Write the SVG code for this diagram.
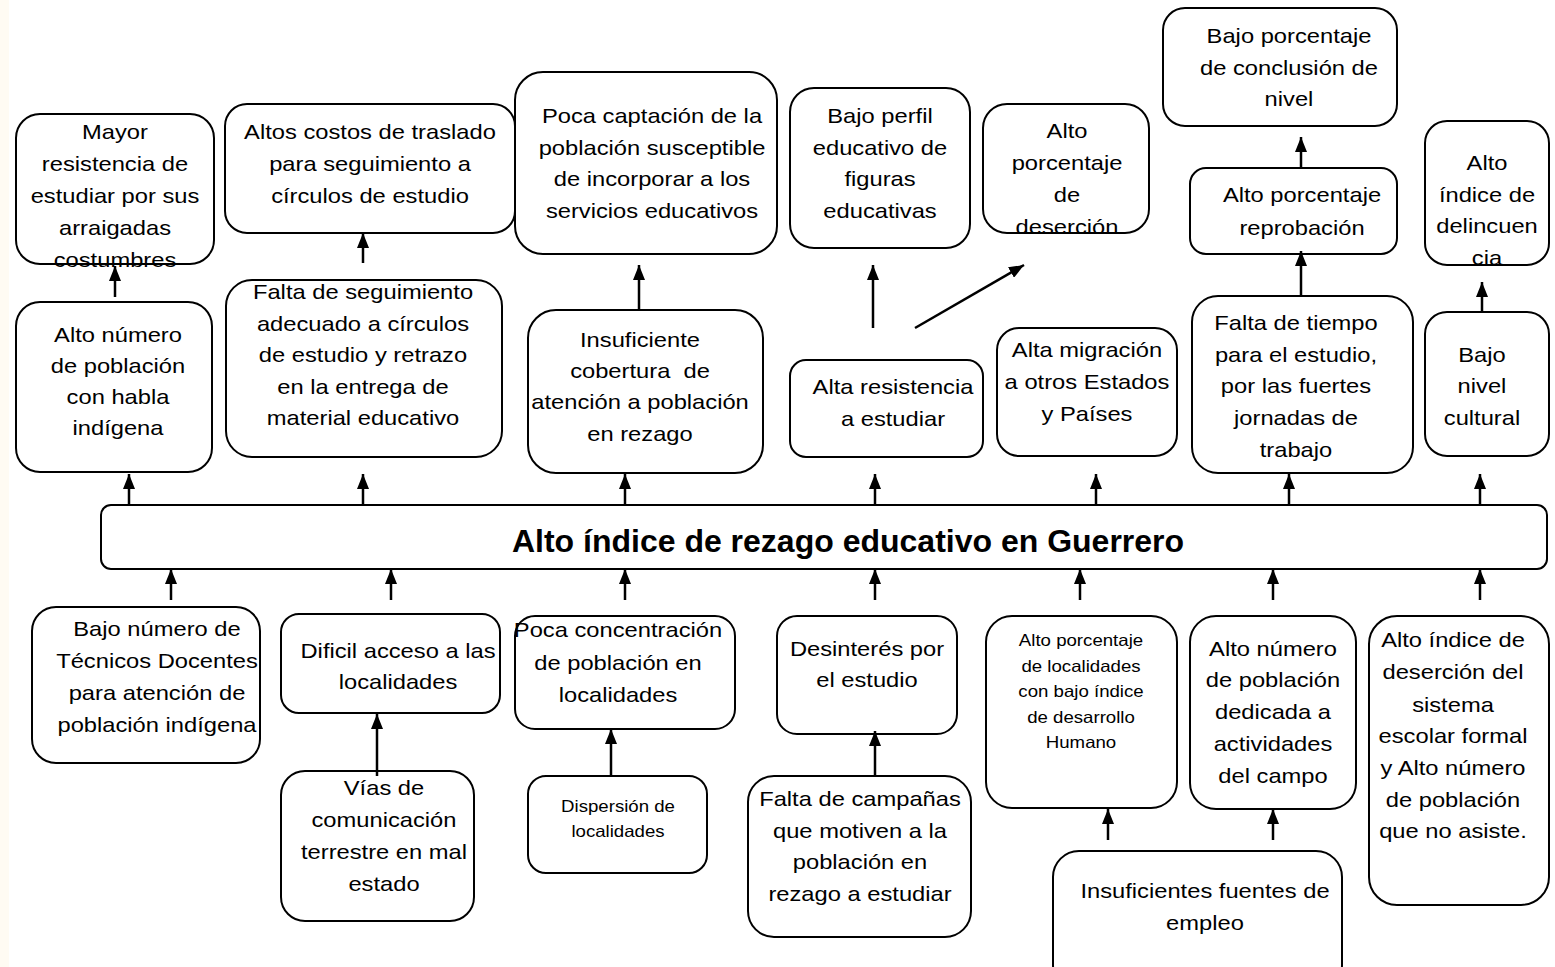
<svg xmlns="http://www.w3.org/2000/svg" width="1555" height="967" viewBox="0 0 1555 967">
<style>
.box{fill:#fff;stroke:#000;stroke-width:2}
.t{font-family:"Liberation Sans",Arial,sans-serif;font-size:21px;fill:#000;text-anchor:middle}
.s{font-size:16.5px}
.title{font-family:"Liberation Sans",Arial,sans-serif;font-size:32px;font-weight:bold;fill:#000;text-anchor:middle}
.c{stroke:#000;stroke-width:2.5;fill:none;marker-end:url(#ah)}
</style>
<defs>
<marker id="ah" viewBox="0 0 15 12" refX="15" refY="6" markerWidth="15" markerHeight="12" markerUnits="userSpaceOnUse" orient="auto">
<path d="M0,0 L15,6 L0,12 z" fill="#000"/>
</marker>
</defs>
<rect x="0" y="0" width="1555" height="967" fill="#fff"/>
<rect x="0" y="0" width="9" height="967" fill="#FFFBF3"/>

<g id="n_mayor"><rect class="box" x="16" y="114" width="198" height="150" rx="24"/>
<text class="t" transform="translate(115 0) scale(1.13 1)"><tspan x="0" y="139">Mayor</tspan><tspan x="0" y="171">resistencia de</tspan><tspan x="0" y="203">estudiar por sus</tspan><tspan x="0" y="235">arraigadas</tspan><tspan x="0" y="267">costumbres</tspan></text></g>

<g id="n_altos"><rect class="box" x="225" y="104" width="290" height="129" rx="22"/>
<text class="t" transform="translate(370 0) scale(1.13 1)"><tspan x="0" y="139">Altos costos de traslado</tspan><tspan x="0" y="171">para seguimiento a</tspan><tspan x="0" y="203">círculos de estudio</tspan></text></g>

<g id="n_captacion"><rect class="box" x="515" y="72" width="262" height="182" rx="28"/>
<text class="t" transform="translate(652 0) scale(1.13 1)"><tspan x="0" y="123">Poca captación de la</tspan><tspan x="0" y="155">población susceptible</tspan><tspan x="0" y="186">de incorporar a los</tspan><tspan x="0" y="218">servicios educativos</tspan></text></g>

<g id="n_perfil"><rect class="box" x="790" y="88" width="180" height="160" rx="24"/>
<text class="t" transform="translate(880 0) scale(1.13 1)"><tspan x="0" y="123">Bajo perfil</tspan><tspan x="0" y="155">educativo de</tspan><tspan x="0" y="186">figuras</tspan><tspan x="0" y="218">educativas</tspan></text></g>

<g id="n_desercion"><rect class="box" x="983" y="104" width="166" height="129" rx="24"/>
<text class="t" transform="translate(1067 0) scale(1.13 1)"><tspan x="0" y="138">Alto</tspan><tspan x="0" y="170">porcentaje</tspan><tspan x="0" y="202">de</tspan><tspan x="0" y="234">deserción</tspan></text></g>

<g id="n_conclusion"><rect class="box" x="1163" y="8" width="234" height="118" rx="22"/>
<text class="t" transform="translate(1289 0) scale(1.13 1)"><tspan x="0" y="43">Bajo porcentaje</tspan><tspan x="0" y="75">de conclusión de</tspan><tspan x="0" y="106">nivel</tspan></text></g>

<g id="n_reprobacion"><rect class="box" x="1190" y="168" width="207" height="86" rx="16"/>
<text class="t" transform="translate(1302 0) scale(1.13 1)"><tspan x="0" y="202">Alto porcentaje</tspan><tspan x="0" y="235">reprobación</tspan></text></g>

<g id="n_delincuencia"><rect class="box" x="1425" y="121" width="124" height="144" rx="22"/>
<text class="t" transform="translate(1487 0) scale(1.13 1)"><tspan x="0" y="170">Alto</tspan><tspan x="0" y="202">índice de</tspan><tspan x="0" y="233">delincuen</tspan><tspan x="0" y="265">cia</tspan></text></g>

<g id="n_habla"><rect class="box" x="16" y="302" width="196" height="170" rx="24"/>
<text class="t" transform="translate(118 0) scale(1.13 1)"><tspan x="0" y="342">Alto número</tspan><tspan x="0" y="373">de población</tspan><tspan x="0" y="404">con habla</tspan><tspan x="0" y="435">indígena</tspan></text></g>

<g id="n_seguimiento"><rect class="box" x="226" y="280" width="276" height="177" rx="26"/>
<text class="t" transform="translate(363 0) scale(1.13 1)"><tspan x="0" y="299">Falta de seguimiento</tspan><tspan x="0" y="331">adecuado a círculos</tspan><tspan x="0" y="362">de estudio y retrazo</tspan><tspan x="0" y="394">en la entrega de</tspan><tspan x="0" y="425">material educativo</tspan></text></g>

<g id="n_cobertura"><rect class="box" x="528" y="310" width="235" height="163" rx="28"/>
<text class="t" transform="translate(640 0) scale(1.13 1)"><tspan x="0" y="347">Insuficiente</tspan><tspan x="0" y="378" style="white-space:pre">cobertura  de</tspan><tspan x="0" y="409">atención a población</tspan><tspan x="0" y="441">en rezago</tspan></text></g>

<g id="n_resistencia"><rect class="box" x="790" y="360" width="193" height="97" rx="16"/>
<text class="t" transform="translate(893 0) scale(1.13 1)"><tspan x="0" y="394">Alta resistencia</tspan><tspan x="0" y="426">a estudiar</tspan></text></g>

<g id="n_migracion"><rect class="box" x="997" y="328" width="180" height="128" rx="22"/>
<text class="t" transform="translate(1087 0) scale(1.13 1)"><tspan x="0" y="357">Alta migración</tspan><tspan x="0" y="389">a otros Estados</tspan><tspan x="0" y="421">y Países</tspan></text></g>

<g id="n_tiempo"><rect class="box" x="1192" y="296" width="221" height="177" rx="26"/>
<text class="t" transform="translate(1296 0) scale(1.13 1)"><tspan x="0" y="330">Falta de tiempo</tspan><tspan x="0" y="362">para el estudio,</tspan><tspan x="0" y="393">por las fuertes</tspan><tspan x="0" y="425">jornadas de</tspan><tspan x="0" y="457">trabajo</tspan></text></g>

<g id="n_cultural"><rect class="box" x="1425" y="312" width="124" height="144" rx="22"/>
<text class="t" transform="translate(1482 0) scale(1.13 1)"><tspan x="0" y="362">Bajo</tspan><tspan x="0" y="393">nivel</tspan><tspan x="0" y="425">cultural</tspan></text></g>

<g id="n_central"><rect class="box" x="101" y="505" width="1446" height="64" rx="10"/>
<text class="title" x="848" y="552">Alto índice de rezago educativo en Guerrero</text></g>

<g id="n_tecnicos"><rect class="box" x="32" y="607" width="228" height="156" rx="24"/>
<text class="t" transform="translate(157 0) scale(1.13 1)"><tspan x="0" y="636">Bajo número de</tspan><tspan x="0" y="668">Técnicos Docentes</tspan><tspan x="0" y="700">para atención de</tspan><tspan x="0" y="732">población indígena</tspan></text></g>

<g id="n_acceso"><rect class="box" x="281" y="614" width="219" height="99" rx="18"/>
<text class="t" transform="translate(398 0) scale(1.13 1)"><tspan x="0" y="658">Dificil acceso a las</tspan><tspan x="0" y="689">localidades</tspan></text></g>

<g id="n_concentracion"><rect class="box" x="515" y="616" width="220" height="113" rx="20"/>
<text class="t" transform="translate(618 0) scale(1.13 1)"><tspan x="0" y="637">Poca concentración</tspan><tspan x="0" y="670">de población en</tspan><tspan x="0" y="702">localidades</tspan></text></g>

<g id="n_desinteres"><rect class="box" x="777" y="616" width="180" height="118" rx="20"/>
<text class="t" transform="translate(867 0) scale(1.13 1)"><tspan x="0" y="656">Desinterés por</tspan><tspan x="0" y="687">el estudio</tspan></text></g>

<g id="n_idh"><rect class="box" x="986" y="616" width="191" height="192" rx="26"/>
<text class="t s" transform="translate(1081 0) scale(1.13 1)"><tspan x="0" y="646">Alto porcentaje</tspan><tspan x="0" y="672">de localidades</tspan><tspan x="0" y="697">con bajo índice</tspan><tspan x="0" y="723">de desarrollo</tspan><tspan x="0" y="748">Humano</tspan></text></g>

<g id="n_campo"><rect class="box" x="1190" y="616" width="166" height="193" rx="26"/>
<text class="t" transform="translate(1273 0) scale(1.13 1)"><tspan x="0" y="656">Alto número</tspan><tspan x="0" y="687">de población</tspan><tspan x="0" y="719">dedicada a</tspan><tspan x="0" y="751">actividades</tspan><tspan x="0" y="783">del campo</tspan></text></g>

<g id="n_sistema"><rect class="box" x="1369" y="616" width="180" height="289" rx="28"/>
<text class="t" transform="translate(1453 0) scale(1.13 1)"><tspan x="0" y="647">Alto índice de</tspan><tspan x="0" y="679">deserción del</tspan><tspan x="0" y="712">sistema</tspan><tspan x="0" y="743">escolar formal</tspan><tspan x="0" y="775">y Alto número</tspan><tspan x="0" y="807">de población</tspan><tspan x="0" y="838">que no asiste.</tspan></text></g>

<g id="n_vias"><rect class="box" x="281" y="771" width="193" height="150" rx="24"/>
<text class="t" transform="translate(384 0) scale(1.13 1)"><tspan x="0" y="795">Vías de</tspan><tspan x="0" y="827">comunicación</tspan><tspan x="0" y="859">terrestre en mal</tspan><tspan x="0" y="891">estado</tspan></text></g>

<g id="n_dispersion"><rect class="box" x="528" y="776" width="179" height="97" rx="18"/>
<text class="t s" transform="translate(618 0) scale(1.13 1)"><tspan x="0" y="812">Dispersión de</tspan><tspan x="0" y="837">localidades</tspan></text></g>

<g id="n_campanas"><rect class="box" x="748" y="776" width="223" height="161" rx="26"/>
<text class="t" transform="translate(860 0) scale(1.13 1)"><tspan x="0" y="806">Falta de campañas</tspan><tspan x="0" y="838">que motiven a la</tspan><tspan x="0" y="869">población en</tspan><tspan x="0" y="901">rezago a estudiar</tspan></text></g>

<g id="n_empleo"><rect class="box" x="1053" y="851" width="289" height="140" rx="26"/>
<text class="t" transform="translate(1205 0) scale(1.13 1)"><tspan x="0" y="898">Insuficientes fuentes de</tspan><tspan x="0" y="930">empleo</tspan></text></g>

<g id="connectors">
<line class="c" x1="115" y1="297" x2="115" y2="266"/>
<line class="c" x1="363" y1="263" x2="363" y2="233"/>
<line class="c" x1="639" y1="310" x2="639" y2="265"/>
<line class="c" x1="873" y1="328" x2="873" y2="265"/>
<line class="c" x1="915" y1="328" x2="1024" y2="265"/>
<line class="c" x1="1301" y1="168" x2="1301" y2="137"/>
<line class="c" x1="1301" y1="296" x2="1301" y2="251"/>
<line class="c" x1="1482" y1="312" x2="1482" y2="282"/>
<line class="c" x1="129" y1="505" x2="129" y2="474"/>
<line class="c" x1="363" y1="505" x2="363" y2="474"/>
<line class="c" x1="625" y1="505" x2="625" y2="474"/>
<line class="c" x1="875" y1="505" x2="875" y2="474"/>
<line class="c" x1="1096" y1="505" x2="1096" y2="474"/>
<line class="c" x1="1289" y1="505" x2="1289" y2="474"/>
<line class="c" x1="1480" y1="505" x2="1480" y2="474"/>
<line class="c" x1="171" y1="600" x2="171" y2="569"/>
<line class="c" x1="391" y1="600" x2="391" y2="569"/>
<line class="c" x1="625" y1="600" x2="625" y2="569"/>
<line class="c" x1="875" y1="600" x2="875" y2="569"/>
<line class="c" x1="1080" y1="600" x2="1080" y2="569"/>
<line class="c" x1="1273" y1="600" x2="1273" y2="569"/>
<line class="c" x1="1480" y1="600" x2="1480" y2="569"/>
<line class="c" x1="377" y1="776" x2="377" y2="714"/>
<line class="c" x1="611" y1="776" x2="611" y2="729"/>
<line class="c" x1="875" y1="776" x2="875" y2="731"/>
<line class="c" x1="1108" y1="840" x2="1108" y2="809"/>
<line class="c" x1="1273" y1="840" x2="1273" y2="809"/>
</g>
</svg>
